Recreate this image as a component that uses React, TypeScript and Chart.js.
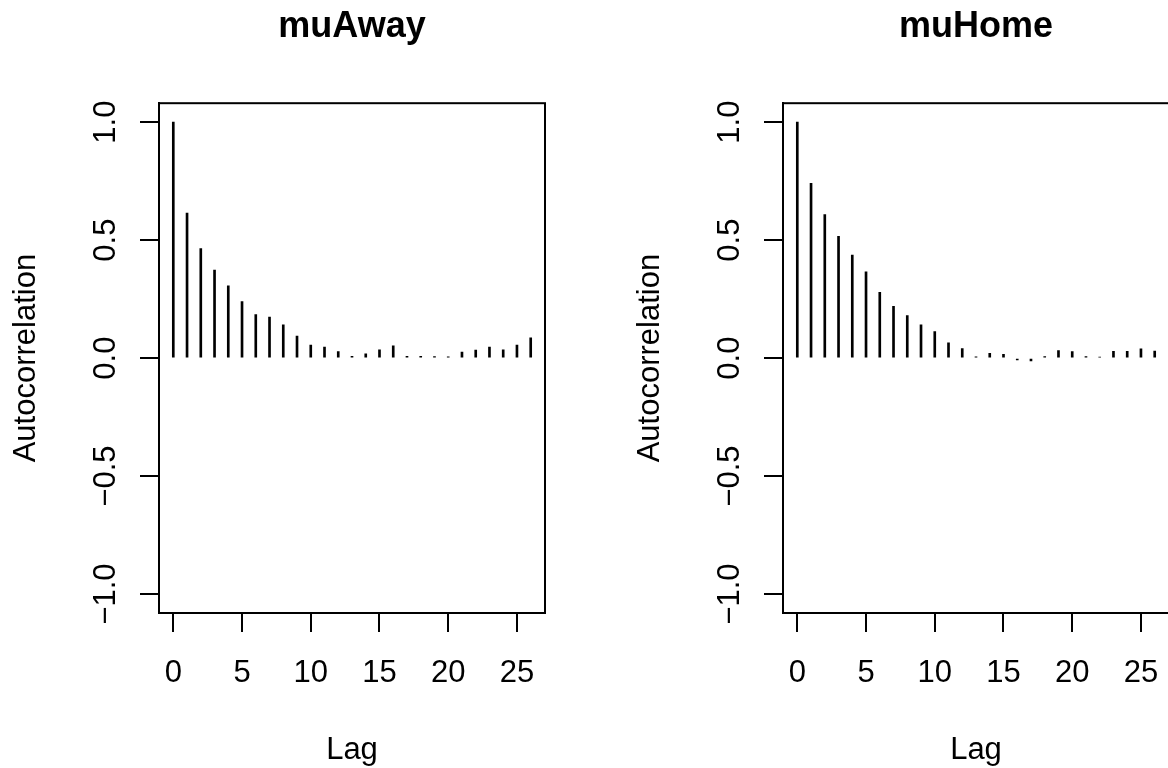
import React, { useEffect, useRef } from "react";
import { Chart, registerables } from "chart.js";

Chart.register(...registerables);

// ---- data ----
const lags = [0, 1, 2, 3, 4, 5, 6, 7, 8, 9, 10, 11, 12, 13, 14, 15, 16, 17, 18, 19, 20, 21, 22, 23, 24, 25, 26];
const muAwayAcf = [
  1.0, 0.614, 0.464, 0.373, 0.306, 0.239, 0.184, 0.174, 0.141, 0.093, 0.055, 0.047, 0.028, 0.008,
  0.018, 0.035, 0.052, 0.008, 0.007, 0.006, 0.005, 0.026, 0.034, 0.047, 0.035, 0.055, 0.086,
];
const muHomeAcf = [
  1.0, 0.741, 0.608, 0.516, 0.437, 0.365, 0.279, 0.219, 0.18, 0.141, 0.112, 0.065, 0.04, 0.005,
  0.02, 0.016, -0.008, -0.012, 0.006, 0.032, 0.028, 0.006, 0.004, 0.029, 0.029, 0.039, 0.03,
];
const xTickValues = [0, 5, 10, 15, 20, 25];
const yTickValues = [-1, -0.5, 0, 0.5, 1];
const panelTitles = ["muAway", "muHome"];
const xAxisLabel = "Lag";
const yAxisLabel = "Autocorrelation";

const PANEL_W = 624;
const PANEL_H = 768;
const FONT = "'Liberation Sans', Arial, Helvetica, sans-serif";

function fmtY(v: number): string {
  const s = Math.abs(v).toFixed(1);
  return v < 0 ? "\u2212" + s : s;
}

const boxPlugin = {
  id: "rbox",
  afterDraw(chart: any) {
    const { ctx, chartArea } = chart;
    const { left, top, right, bottom } = chartArea;
    ctx.save();
    ctx.strokeStyle = "#000";
    ctx.lineWidth = 2;
    ctx.strokeRect(left, top, right - left, bottom - top);
    ctx.restore();
  },
};

function AcfPanel({ title, values }: { title: string; values: number[] }) {
  const ref = useRef<HTMLCanvasElement>(null);
  useEffect(() => {
    if (!ref.current) return;
    const gridOpts = {
      display: true,
      offset: false,
      drawOnChartArea: false,
      drawTicks: true,
      tickLength: 19,
      color: "#000",
      lineWidth: 2,
    };
    const chart = new Chart(ref.current, {
      type: "bar",
      data: {
        datasets: [
          {
            data: lags.map((l, i) => ({ x: l, y: values[i] })),
            backgroundColor: "#000",
            borderWidth: 0,
            barThickness: 2,
          },
        ],
      },
      options: {
        animation: false,
        responsive: false,
        devicePixelRatio: 1,
        layout: { padding: { left: 0, right: 79, top: 0, bottom: 0 } },
        plugins: {
          legend: { display: false },
          tooltip: { enabled: false },
          title: {
            display: true,
            text: title,
            fullSize: false,
            color: "#000",
            font: { family: FONT, size: 36, weight: "bold" },
            padding: { top: 5, bottom: 55 },
          },
        },
        scales: {
          x: {
            type: "linear",
            min: -1.04,
            max: 27.04,
            offset: false,
            afterBuildTicks: (s: any) => {
              s.ticks = xTickValues.map((v) => ({ value: v }));
            },
            afterFit: (s: any) => {
              s.height = PANEL_H - 613;
            },
            grid: gridOpts,
            border: { display: true, color: "#000", width: 2 },
            ticks: {
              color: "#000",
              font: { family: FONT, size: 31 },
              padding: 23,
              maxRotation: 0,
              autoSkip: false,
              callback: (v: any) => String(v),
            },
            title: {
              display: true,
              text: xAxisLabel,
              color: "#000",
              font: { family: FONT, size: 31 },
              padding: { top: 0, bottom: -1 },
            },
          },
          y: {
            type: "linear",
            min: -1.08,
            max: 1.08,
            afterBuildTicks: (s: any) => {
              s.ticks = yTickValues.map((v) => ({ value: v }));
            },
            afterFit: (s: any) => {
              s.width = 159;
            },
            grid: gridOpts,
            border: { display: true, color: "#000", width: 2 },
            ticks: {
              color: "#000",
              font: { family: FONT, size: 31 },
              padding: 3,
              minRotation: 90,
              maxRotation: 90,
              crossAlign: "center",
              autoSkip: false,
              callback: (v: any) => fmtY(Number(v)),
            },
            title: {
              display: true,
              text: yAxisLabel,
              color: "#000",
              font: { family: FONT, size: 31 },
              padding: { top: 8, bottom: 0 },
            },
          },
        },
      } as any,
      plugins: [boxPlugin],
    });
    return () => chart.destroy();
  }, [title, values]);
  return (
    <canvas
      ref={ref}
      width={PANEL_W}
      height={PANEL_H}
      style={{ display: "block", width: PANEL_W, height: PANEL_H }}
    />
  );
}

export default function App() {
  return (
    <div
      style={{
        position: "fixed",
        left: 0,
        top: 0,
        width: 1168,
        height: 768,
        overflow: "hidden",
        background: "#fff",
      }}
    >
      <div style={{ position: "absolute", left: 0, top: 0 }}>
        <AcfPanel title={panelTitles[0]} values={muAwayAcf} />
      </div>
      <div style={{ position: "absolute", left: PANEL_W, top: 0 }}>
        <AcfPanel title={panelTitles[1]} values={muHomeAcf} />
      </div>
    </div>
  );
}
